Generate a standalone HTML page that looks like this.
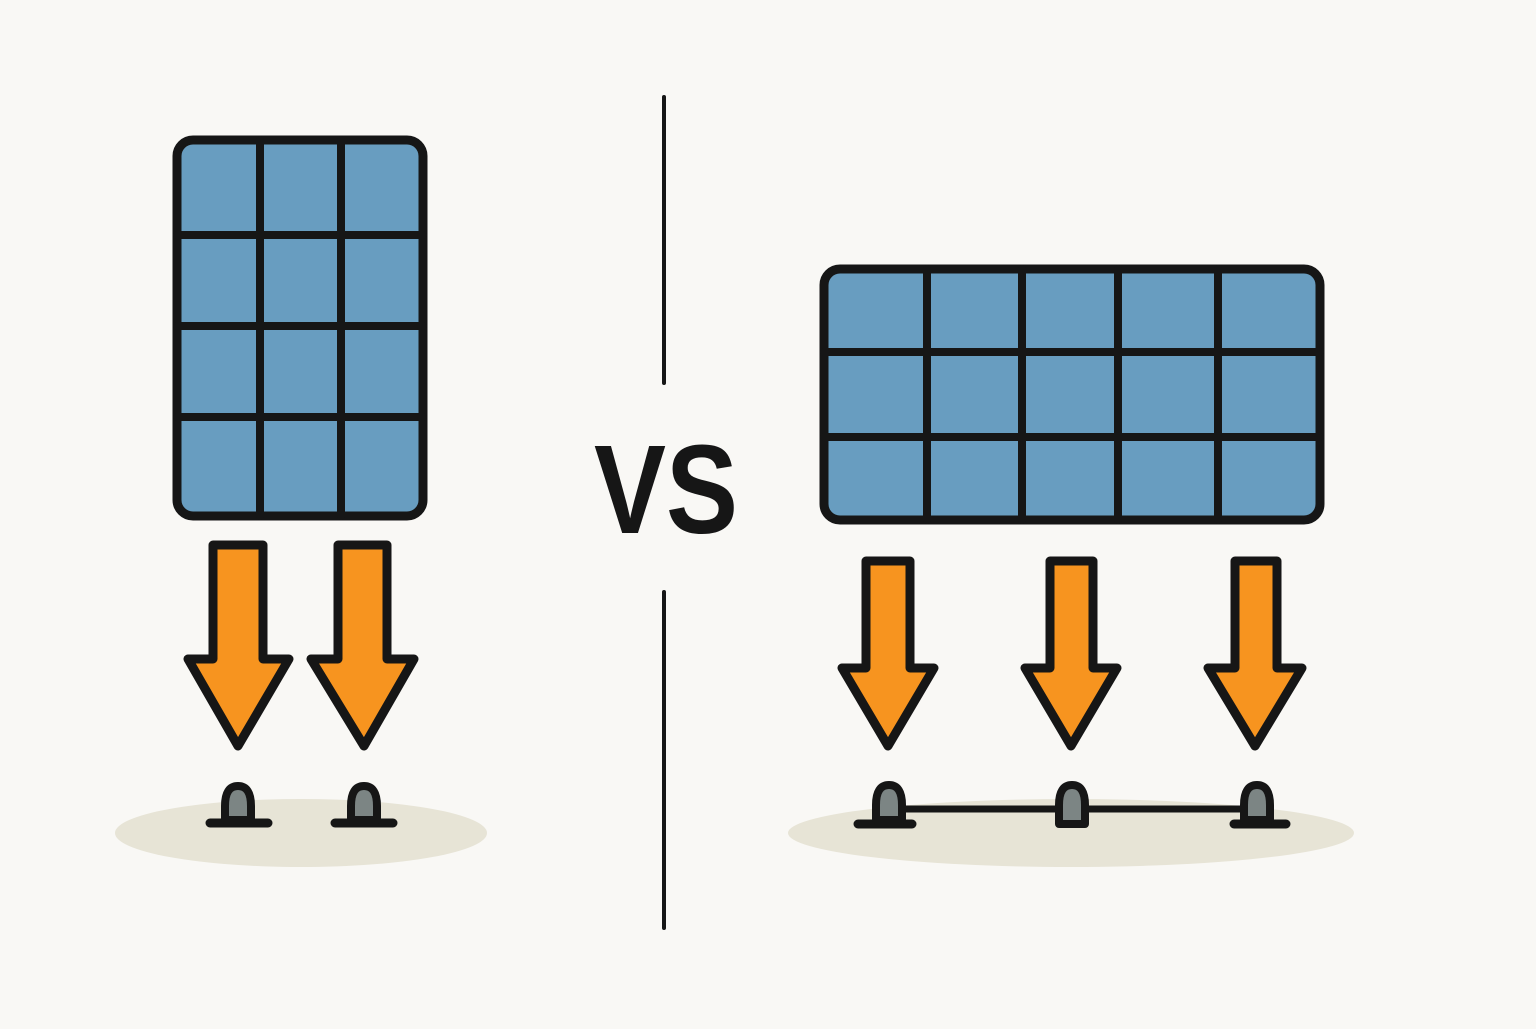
<!DOCTYPE html>
<html><head><style>html,body{margin:0;padding:0;background:#f9f8f5}</style></head>
<body>
<svg width="1536" height="1024" viewBox="0 0 1536 1024" xmlns="http://www.w3.org/2000/svg">
<rect width="1536" height="1024" fill="#f9f8f5"/>
<g stroke="#161616" stroke-linecap="round" stroke-linejoin="round">
<rect x="177" y="140" width="246" height="376" rx="16" fill="#689dc0" stroke-width="9"/>
<path d="M260 140V516M341 140V516M177 235H423M177 326H423M177 417H423" stroke-width="8" fill="none"/>
<rect x="824" y="269" width="496" height="251" rx="16" fill="#689dc0" stroke-width="9"/>
<path d="M927 269V520M1022 269V520M1118 269V520M1218 269V520M824 352H1320M824 437H1320" stroke-width="8" fill="none"/>
<path d="M664 97V383M664 592V928" stroke-width="4"/>
<g fill="#f7941f" stroke-width="9">
<path d="M213 545H263V659H289L238 746L188 659H213Z"/>
<path d="M338 545H387V659H414L364 746L311 659H338Z"/>
<path d="M866 561H910V668H934L888 746L842 668H866Z"/>
<path d="M1050 561H1093V668H1117L1071 746L1025 668H1050Z"/>
<path d="M1235 561H1277V668H1302L1255 746L1208 668H1235Z"/>
</g>
</g>
<ellipse cx="301" cy="833" rx="186" ry="34" fill="#e7e4d6"/>
<ellipse cx="1071" cy="833" rx="283" ry="34" fill="#e7e4d6"/>
<g stroke="#161616" stroke-linecap="round" stroke-linejoin="round">
<path d="M888 809H1257" stroke-width="7"/>
<path d="M210 823H268M335 823H393M858 824H912M1234 824H1286" stroke-width="9"/>
<g fill="#7c8584" stroke-width="8">
<path d="M225 820V806Q225 786 238 786Q251 786 251 806V820Z"/>
<path d="M351 820V806Q351 786 364 786Q377 786 377 806V820Z"/>
<path d="M876 820V805Q876 785 889 785Q902 785 902 805V820Z"/>
<path d="M1059 824V805Q1059 785 1072 785Q1085 785 1085 805V824Z"/>
<path d="M1244 820V805Q1244 785 1257 785Q1270 785 1270 805V820Z"/>
</g>
</g>
<text x="594" y="533" font-family="Liberation Sans, sans-serif" font-weight="bold" font-size="126" fill="#161616" textLength="144" lengthAdjust="spacingAndGlyphs">VS</text>
</svg>
</body></html>
